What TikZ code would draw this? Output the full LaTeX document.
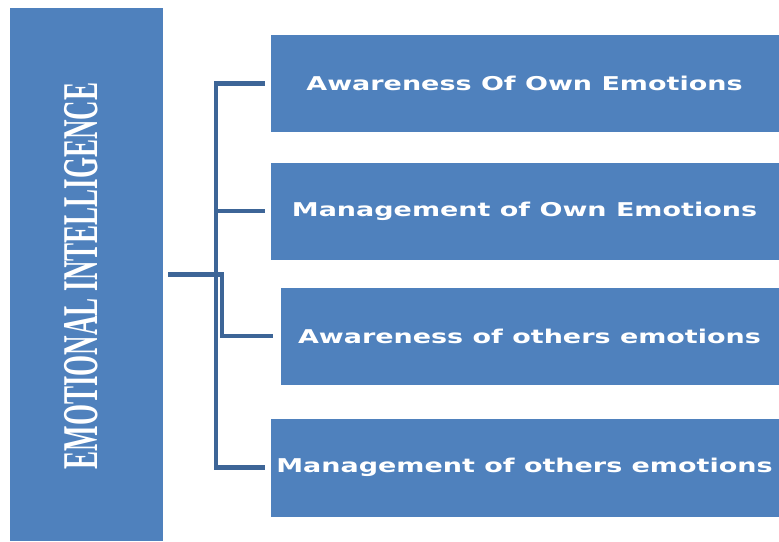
\documentclass[tikz,border=0pt]{standalone}
\usepackage{fontspec}
\newfontfamily\boxfont{DejaVu Sans}
\newfontfamily\titlefont{Liberation Serif}
\definecolor{boxblue}{HTML}{4F81BD}
\definecolor{linkblue}{HTML}{3D6597}

\begin{document}
\begin{tikzpicture}[x=1pt,y=1pt,
  item/.style={fill=boxblue,draw=white,line width=.6pt,minimum height=98pt,
    inner sep=0pt,text=white,font=\boxfont\bfseries\fontsize{19}{19}\selectfont},
  link/.style={draw=linkblue,line width=4.5pt}]
\useasboundingbox (0,0) rectangle (779,541);
% main block on the left
\node[fill=boxblue,minimum width=153pt,minimum height=533pt,inner sep=0pt] (ei) at (86.5,266.5) {};
\node[rotate=90,inner sep=0pt,text=white,font=\titlefont\bfseries\fontsize{50}{50}\selectfont] (eilabel) at (81.5,265)
  {\scalebox{0.54}[1]{EMOTIONAL INTELLIGENCE}};
% the four components
\node[item,minimum width=509pt] (aown) at (524.5,457.5) {\scalebox{1.42}[1]{Awareness Of Own Emotions}};
\node[item,minimum width=509pt] (mown) at (524.5,330) {\scalebox{1.42}[1]{Management of Own Emotions}};
\node[item,minimum width=499pt] (aoth) at (529.5,205) {\scalebox{1.42}[1]{Awareness of others emotions}};
\node[item,minimum width=509pt,minimum height=99pt] (moth) at (524.5,73.5) {\scalebox{1.42}[1]{Management of others emotions}};
% elbow links
\coordinate (hub) at ([xshift=5pt]ei.east);
\foreach \b in {aown,mown,moth}{
	\draw[link,shorten >=5pt] (hub) -- ++(48,0) |- (\b.west);
	}
\draw[link,shorten >=7pt] (hub) -- ++(54,0) |- (aoth.west);
\end{tikzpicture}
\end{document}
